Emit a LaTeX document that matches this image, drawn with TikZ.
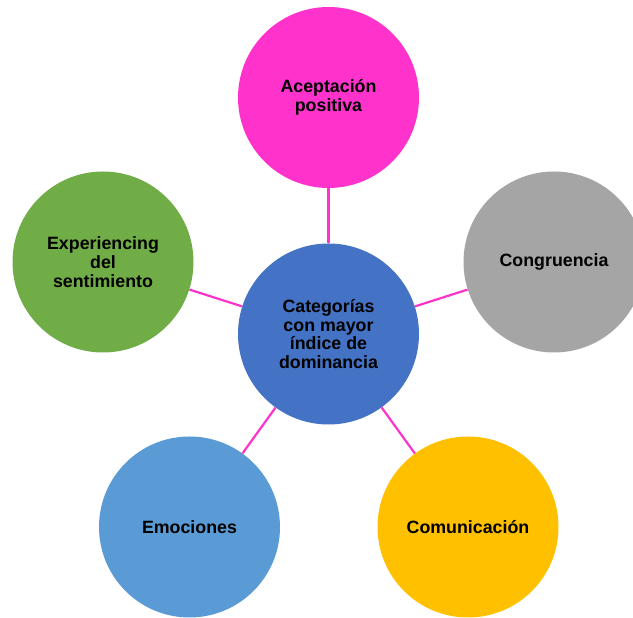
\documentclass[tikz,border=0pt]{standalone}
\usepackage{fontspec}
\setmainfont{Liberation Sans}
\usepackage{tikz}
\usepackage{xcolor}
\definecolor{colorP}{RGB}{255,51,204}
\definecolor{colorG}{RGB}{165,165,165}
\definecolor{colorV}{RGB}{112,173,71}
\definecolor{colorB}{RGB}{68,114,196}
\definecolor{colorL}{RGB}{91,155,213}
\definecolor{colorY}{RGB}{255,192,0}

\begin{document}
\begin{tikzpicture}[x=1pt, y=1pt,
		cat/.style={circle, minimum size=181pt, inner sep=0pt, align=center,
			font=\fontsize{17.8}{18.7}\selectfont\bfseries},
		link/.style={colorP, line width=2.2pt}]
		\clip (0,0) rectangle (633,618);
		%
		\node[cat, fill=colorB] (hub) at (328.5,284) {Categorías\\con mayor\\índice de\\dominancia};
		\node[cat, fill=colorP] (acep) at (328.5,520.5) {Aceptación\\positiva};
		\node[cat, fill=colorG] (cong) at (554,356) {Congruencia};
		\node[cat, fill=colorY] (comu) at (468,91) {Comunicación};
		\node[cat, fill=colorL] (emoc) at (189.5,91) {Emociones};
		\node[cat, fill=colorV] (expe) at (103,356) {Experiencing\\del\\sentimiento};
		%
		\draw[link] (hub) -- (acep);
		\draw[link] (hub) -- (cong);
		\draw[link] (hub) -- (comu);
		\draw[link] (hub) -- (emoc);
		\draw[link] (hub) -- (expe);
	\end{tikzpicture}
\end{document}
